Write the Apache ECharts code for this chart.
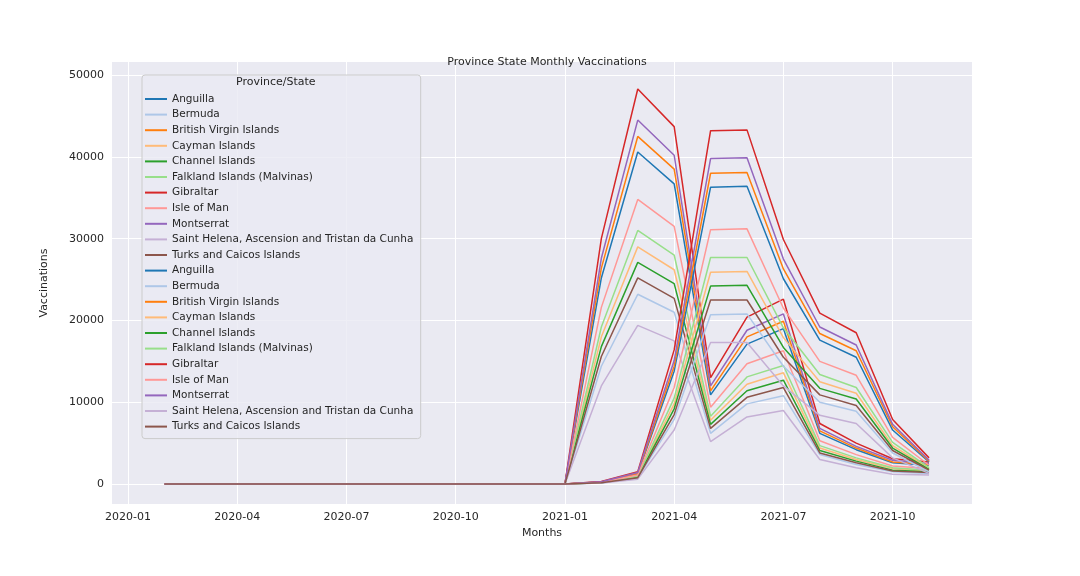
<!DOCTYPE html>
<html><head><meta charset="utf-8">
<script src="https://cdn.jsdelivr.net/npm/echarts@6/dist/echarts.min.js"></script>
<style>body{margin:0;background:#fff}#c{width:1080px;height:576px}</style>
</head><body><div id="c"></div>
<script>
var myChart = echarts.init(document.getElementById('c'));

// months from 2020-02 to 2021-11, as index since 2020-01
var months = [1,2,3,4,5,6,7,8,9,10,11,12,13,14,15,16,17,18,19,20,21,22];
var lead2020 = [0,0,0,0,0,0,0,0,0,0,0]; // 2020-02 .. 2020-12

var provinces = ['Anguilla','Bermuda','British Virgin Islands','Cayman Islands','Channel Islands',
    'Falkland Islands (Malvinas)','Gibraltar','Isle of Man','Montserrat',
    'Saint Helena, Ascension and Tristan da Cunha','Turks and Caicos Islands'];
var colors = ['#1f77b4','#aec7e8','#ff7f0e','#ffbb78','#2ca02c','#98df8a','#d62728','#ff9896','#9467bd','#c5b0d5','#8c564b'];

// 2021-01 .. 2021-11
var firstSet = [
    [0,25200,40600,36700,10900,17100,19000,6200,4200,2600,2300],
    [0,14400,23200,21000,6200,9800,10800,3600,2400,1500,1300],
    [0,26400,42500,38500,11400,18000,19900,6500,4400,2700,2400],
    [0,18000,29000,26200,7800,12200,13600,4400,3000,1900,1600],
    [0,16800,27100,24500,7300,11400,12700,4100,2800,1700,1500],
    [0,19200,31000,28000,8300,13100,14500,4700,3200,2000,1700],
    [0,30000,48300,43700,13000,20400,22600,7400,5000,3100,2700],
    [0,21600,34800,31500,9400,14700,16300,5300,3600,2200,1900],
    [0,27600,44500,40200,12000,18800,20800,6800,4600,2900,2500],
    [0,12000,19400,17500,5200,8200,9000,3000,2000,1200,1100],
    [0,15600,25200,22700,6800,10600,11800,3800,2600,1600,1400]
];
var secondSet = [
    [0,250,1250,13800,36300,36400,25100,17600,15500,6600,2700],
    [0,140,720,7900,20700,20800,14400,10000,8900,3800,1500],
    [0,260,1300,14400,38000,38100,26300,18400,16300,7000,2800],
    [0,180,900,9800,25900,26000,17900,12500,11100,4700,1900],
    [0,170,840,9200,24200,24300,16700,11700,10400,4400,1800],
    [0,190,950,10500,27700,27700,19100,13400,11800,5100,2000],
    [0,300,1500,16400,43200,43300,29900,20900,18500,7900,3200],
    [0,220,1100,11800,31100,31200,21500,15000,13300,5700,2300],
    [0,280,1400,15100,39800,39900,27500,19200,17000,7300,2900],
    [0,120,600,6600,17300,17300,12000,8400,7400,3200,1300],
    [0,160,780,8500,22500,22500,15500,10900,9600,4100,1700]
];

var xTicks = [0,3,6,9,12,15,18,21];
var yTicks = [0,10000,20000,30000,40000,50000];

function toPoints(vals) {
    var all = lead2020.concat(vals);
    return months.map(function (m, i) { return [m, all[i]]; });
}

var series = [];
var legendData = [];
[firstSet, secondSet].forEach(function (set, k) {
    set.forEach(function (vals, i) {
        var name = provinces[i] + (k ? ' ' : '');
        legendData.push({name: name, itemStyle: {color: colors[i]}});
        series.push({
            name: name, type: 'line', data: toPoints(vals), showSymbol: false,
            color: colors[i], lineStyle: {width: 1.5, color: colors[i]}, animation: false
        });
    });
});

var axisText = {color: '#262626', fontSize: 11, fontFamily: 'DejaVu Sans'};

myChart.setOption({
    title: {text: 'Province State Monthly Vaccinations', left: 542, top: 52, textAlign: 'center',
        textStyle: {fontSize: 11, fontWeight: 'normal', color: '#262626', fontFamily: 'DejaVu Sans'}},
    grid: {left: 112, right: 108, top: 62, bottom: 72, show: true, backgroundColor: '#eaeaf2', borderWidth: 0},
    xAxis: {
        type: 'value', min: -0.44, max: 23.18, name: 'Months', nameLocation: 'middle', nameGap: 23,
        nameTextStyle: axisText,
        axisLine: {show: false}, axisTick: {show: false, customValues: xTicks},
        axisLabel: Object.assign({customValues: xTicks, formatter: function (v) {
            var y = 2020 + Math.floor(v / 12), m = v % 12 + 1;
            return y + '-' + (m < 10 ? '0' : '') + m;
        }}, axisText),
        splitLine: {show: true, lineStyle: {color: '#fff', width: 1}}
    },
    yAxis: {
        type: 'value', min: -2440, max: 51600, name: 'Vaccinations', nameLocation: 'middle', nameGap: 62,
        nameTextStyle: axisText,
        axisLine: {show: false}, axisTick: {show: false, customValues: yTicks},
        axisLabel: Object.assign({customValues: yTicks, formatter: function (v) { return String(v); }}, axisText),
        splitLine: {show: true, lineStyle: {color: '#fff', width: 1}}
    },
    legend: {
        orient: 'vertical', left: 142, top: 75, height: 400,
        data: legendData, icon: 'rect', itemWidth: 22, itemHeight: 2, itemGap: 3.6,
        padding: [18, 4, 6, 3], backgroundColor: 'rgba(234,234,242,0.8)',
        borderColor: '#cccccc', borderWidth: 1, borderRadius: 3,
        textStyle: {color: '#262626', fontSize: 10.5, fontFamily: 'DejaVu Sans', lineHeight: 12}
    },
    graphic: [{type: 'text', left: 236, top: 77, z: 100,
        style: {text: 'Province/State', fill: '#262626', fontSize: 11, fontFamily: 'DejaVu Sans'}}],
    series: series
});
</script></body></html>
